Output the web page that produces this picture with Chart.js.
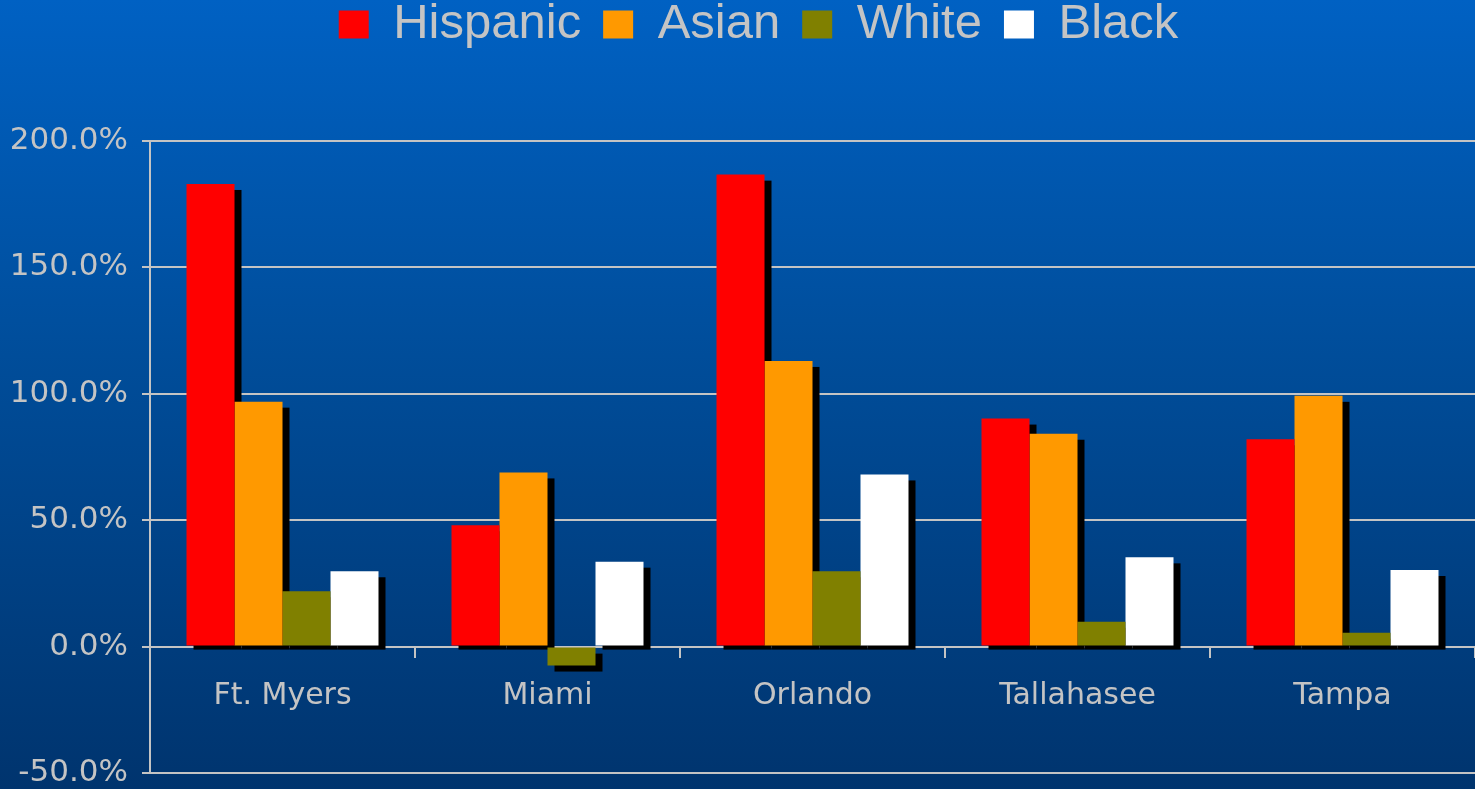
<!DOCTYPE html>
<html>
<head>
<meta charset="utf-8">
<script src="https://cdn.jsdelivr.net/npm/chart.js@4.4.1/dist/chart.umd.min.js"></script>
<style>
  html, body { margin: 0; padding: 0; }
  body {
    width: 1475px; height: 789px; overflow: hidden;
    background: linear-gradient(to bottom, #0061c3 0%, #004d9a 45%, #00346e 100%);
  }
  #wrap { position: relative; width: 1475px; height: 789px; }
</style>
</head>
<body>
<div id="wrap"><canvas id="myChart" width="1475" height="789"></canvas></div>
<script>
// データ
const cities = ['Ft. Myers', 'Miami', 'Orlando', 'Tallahasee', 'Tampa'];
const hispanic = [183.0, 48.0, 186.7, 90.2, 82.0];
const asian    = [96.9, 68.9, 113.0, 84.2, 99.2];
const white    = [21.9, -7.5, 29.8, 9.8, 5.5];
const black    = [29.8, 33.6, 68.1, 35.3, 30.3];
const yTicks   = [-50, 0, 50, 100, 150, 200];

const gridGray = '#c4c4c4';
const textGray = '#c4c4c4';

// 棒の影（右下にずらした黒い矩形）を先にまとめて描く
const barShadow = {
    id: 'barShadow',
    beforeDatasetsDraw(chart) {
        const ctx = chart.ctx;
        ctx.save();
        ctx.fillStyle = '#000';
        chart.data.datasets.forEach((ds, i) => {
            const meta = chart.getDatasetMeta(i);
            if (meta.hidden) return;
            meta.data.forEach(bar => {
                const p = bar.getProps(['x', 'y', 'base', 'width'], true);
                const left = p.x - p.width / 2 + 7;
                const top = Math.min(p.y, p.base) + 6;
                const bottom = Math.max(p.y, p.base) + (p.y > p.base ? 6 : 4);
                ctx.fillRect(left, top, p.width, bottom - top);
            });
        });
        ctx.restore();
    }
};

// 凡例を上に寄せる（縦の余白はグラフ領域用に残す）
const legendShift = {
    id: 'legendShift',
    afterLayout(chart) {
        const lg = chart.legend;
        lg.top -= 82; lg.bottom -= 82;
        lg.left += 21; lg.right += 21;
    }
};

const ctx = document.getElementById('myChart').getContext('2d');
new Chart(ctx, {
    type: 'bar',
    data: {
        labels: cities,
        datasets: [
            { label: 'Hispanic', data: hispanic, backgroundColor: '#ff0000' },
            { label: 'Asian', data: asian, backgroundColor: '#ff9900' },
            { label: 'White', data: white, backgroundColor: '#808000' },
            { label: 'Black', data: black, backgroundColor: '#ffffff' }
        ]
    },
    options: {
        responsive: false,
        animation: false,
        layout: { padding: { top: 60, bottom: 16, left: 0, right: 0 } },
        datasets: {
            bar: { categoryPercentage: 0.7245, barPercentage: 1.0, borderWidth: 0 }
        },
        plugins: {
            tooltip: { enabled: false },
            legend: {
                position: 'top',
                labels: {
                    color: textGray,
                    boxWidth: 30,
                    boxHeight: 28,
                    padding: 22,
                    font: { family: 'Liberation Sans', size: 49 }
                }
            }
        },
        scales: {
            x: {
                position: { y: 0 },
                z: 1,
                grid: {
                    offset: true,
                    drawOnChartArea: false,
                    drawTicks: true,
                    tickLength: 10,
                    color: gridGray,
                    lineWidth: 2
                },
                border: { display: true, color: gridGray, width: 2 },
                ticks: {
                    color: textGray,
                    padding: 22,
                    font: { family: 'DejaVu Sans', size: 30 }
                }
            },
            y: {
                min: -50,
                max: 200,
                afterFit: (scale) => {
                    scale.width = 150;
                    scale.paddingTop = 0;
                    scale.paddingBottom = 16;
                },
                afterBuildTicks: (scale) => { scale.ticks = yTicks.map(v => ({ value: v })); },
                grid: {
                    color: gridGray,
                    lineWidth: 2,
                    drawTicks: true,
                    tickLength: 8
                },
                border: { display: true, color: gridGray, width: 2 },
                ticks: {
                    color: textGray,
                    padding: 14,
                    font: { family: 'DejaVu Sans', size: 31, lineHeight: 1 },
                    callback: (v) => v.toFixed(1) + '%'
                }
            }
        }
    },
    plugins: [barShadow, legendShift]
});
</script>
</body>
</html>
